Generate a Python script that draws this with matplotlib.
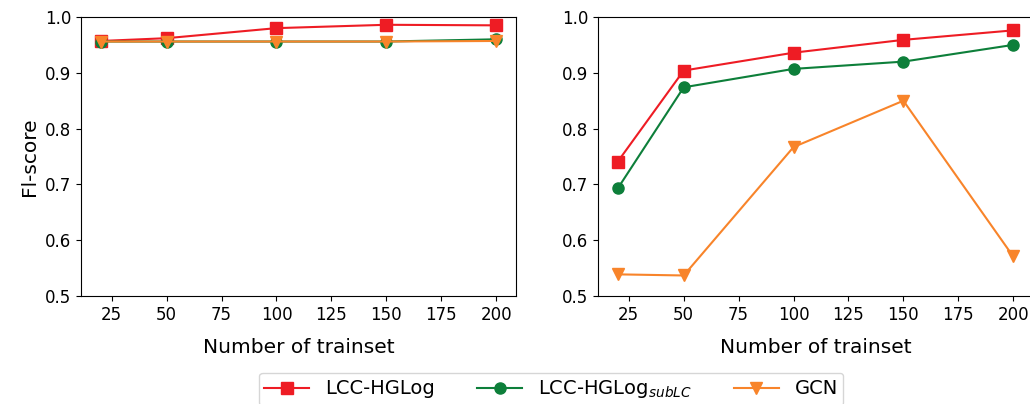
import matplotlib
matplotlib.use("Agg")
import matplotlib.pyplot as plt

x = [20, 50, 100, 150, 200]
left_lcc = [0.957, 0.962, 0.980, 0.986, 0.985]
left_sub = [0.956, 0.956, 0.956, 0.956, 0.960]
left_gcn = [0.956, 0.956, 0.956, 0.956, 0.957]
right_lcc = [0.741, 0.904, 0.936, 0.959, 0.976]
right_sub = [0.693, 0.874, 0.907, 0.920, 0.950]
right_gcn = [0.539, 0.537, 0.767, 0.850, 0.571]
labels = ["LCC-HGLog", r"LCC-HGLog$_{subLC}$", "GCN"]
colors = ["#ee1c24", "#0d7f3a", "#f8842a"]
markers = ["s", "o", "v"]
yticks = [0.5, 0.6, 0.7, 0.8, 0.9, 1.0]
xticks = [25, 50, 75, 100, 125, 150, 175, 200]

fig = plt.figure(figsize=(10.30, 4.04), dpi=100)
ax1 = fig.add_axes([0.0786, 0.267, 0.4223, 0.691])
ax2 = fig.add_axes([0.5806, 0.267, 0.4223, 0.691])

for ax, series in ((ax1, (left_lcc, left_sub, left_gcn)), (ax2, (right_lcc, right_sub, right_gcn))):
    for s, c, m, lab in zip(series, colors, markers, labels):
        ax.plot(x, s, color=c, marker=m, markersize=8, linewidth=1.5, label=lab)
    ax.set_ylim(0.5, 1.0)
    ax.set_yticks(yticks)
    ax.set_xticks(xticks)
    ax.tick_params(labelsize=12)
    ax.set_xlabel("Number of trainset", fontsize=14.5, labelpad=10)

ax1.set_ylabel("Fl-score", fontsize=14.5)

handles, labs = ax1.get_legend_handles_labels()
fig.legend(handles, labs, loc="upper center", bbox_to_anchor=(0.535, 0.102), ncol=3,
           fontsize=14, frameon=True, columnspacing=2.2, handlelength=2.3, borderpad=0.3)

fig.savefig("out.png", dpi=100)
